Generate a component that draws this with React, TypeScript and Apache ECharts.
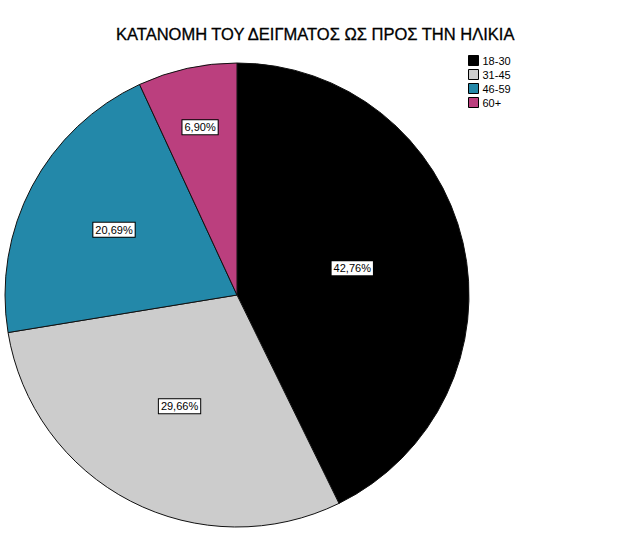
import React, { useEffect, useRef } from "react";
import * as echarts from "echarts";

const categories = ["18-30", "31-45", "46-59", "60+"];
const percentages = [42.76, 29.66, 20.69, 6.9];
const colors = ["#000000", "#cccccc", "#2388a9", "#bb3f7e"];
// how far out each label sits, as a share of the radius
const labelDistance = [0.51, 0.54, 0.6, 0.74];

const CENTER: [number, number] = [237, 295];
const RADIUS = 232;

const App: React.FC = () => {
  const chartRef = useRef<HTMLDivElement>(null);

  useEffect(() => {
    if (!chartRef.current) return;
    const myChart = echarts.init(chartRef.current, undefined, { renderer: "svg" });

    const options = {
      animation: false,
      backgroundColor: "#ffffff",
      textStyle: { fontFamily: "Arial, 'Liberation Sans', sans-serif" },
      title: {
        text: "ΚΑΤΑΝΟΜΗ ΤΟΥ ΔΕΙΓΜΑΤΟΣ ΩΣ ΠΡΟΣ ΤΗΝ ΗΛΙΚΙΑ",
        left: 116,
        top: 25,
        padding: 0,
        textStyle: {
          fontSize: 16.5,
          fontWeight: "normal",
          color: "#000",
          textBorderColor: "#000",
          textBorderWidth: 0.3,
          fontFamily: "Arial, 'Liberation Sans', sans-serif",
        },
      },
      legend: {
        orient: "vertical",
        left: 468,
        top: 55,
        icon: "rect",
        itemWidth: 10,
        itemHeight: 10,
        itemGap: 3,
        padding: 0,
        data: categories,
        itemStyle: { borderColor: "#000", borderWidth: 1 },
        textStyle: { fontSize: 11, lineHeight: 10, color: "#000", padding: [0, 0, 0, -1] },
      },
      series: [
        {
          type: "pie",
          center: CENTER,
          radius: RADIUS,
          startAngle: 90,
          clockwise: true,
          avoidLabelOverlap: false,
          itemStyle: { borderColor: "#111", borderWidth: 1 },
          emphasis: { disabled: true },
          label: {
            show: true,
            position: "inside",
            formatter: (p: any) => p.value.toFixed(2).replace(".", ",") + "%",
            color: "#000",
            fontSize: 11,
            backgroundColor: "#fff",
            borderColor: "#000",
            borderWidth: 1,
            padding: [2, 2, 1, 2],
          },
          labelLayout: (p: any) => {
            const r = p.labelRect;
            const cx = r.x + r.width / 2;
            const cy = r.y + r.height / 2;
            const dx = cx - CENTER[0];
            const dy = cy - CENTER[1];
            const d = Math.sqrt(dx * dx + dy * dy) || 1;
            const k = (labelDistance[p.dataIndex] * RADIUS) / d;
            return {
              x: CENTER[0] + dx * k,
              y: CENTER[1] + dy * k,
              align: "center",
              verticalAlign: "middle",
            };
          },
          data: categories.map((name, i) => ({
            name,
            value: percentages[i],
            itemStyle: { color: colors[i] },
          })),
        },
      ],
    };

    myChart.setOption(options);
    return () => {
      myChart.dispose();
    };
  }, []);

  return (
    <div
      ref={chartRef}
      style={{ position: "fixed", left: 0, top: 0, width: "626px", height: "541px" }}
    />
  );
};

export default App;
